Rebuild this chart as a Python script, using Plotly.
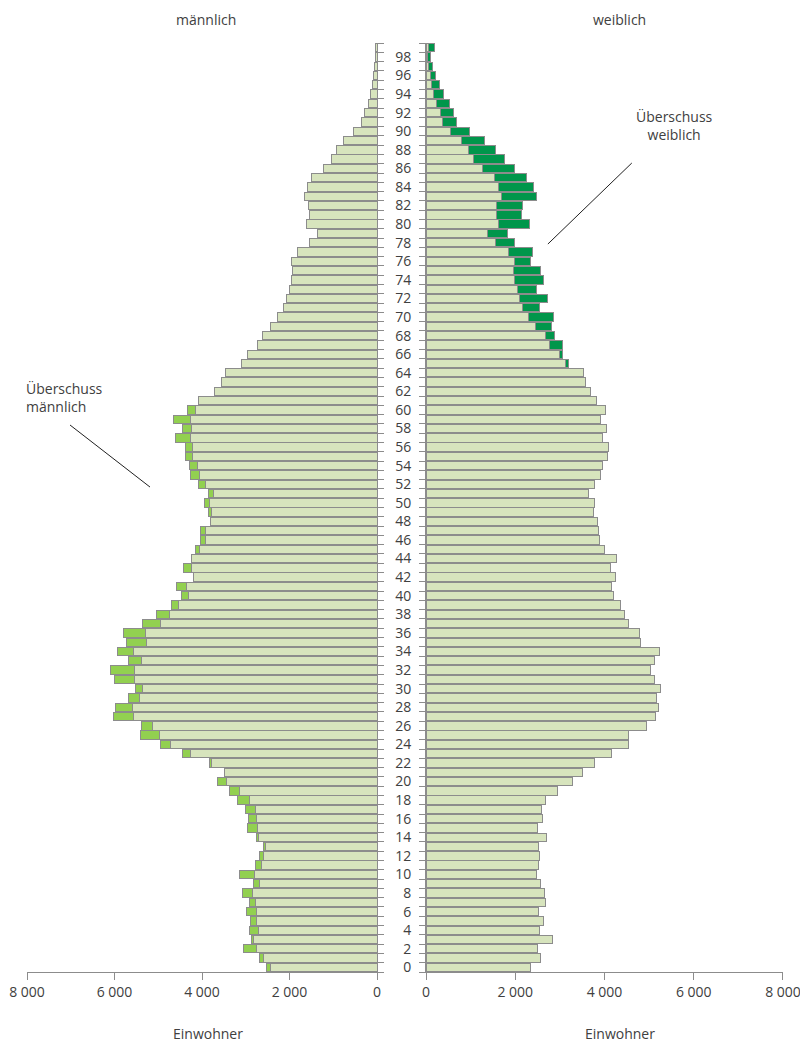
import plotly.graph_objects as go

# Alter 0 bis 99
alter = list(range(100))

# maennlich: gemeinsamer Teil (hell) und Ueberschuss (hellgruen)
maenner_basis = [
    2424, 2606, 2766, 2834, 2720, 2758, 2751, 2789, 2850, 2690,
    2804, 2644, 2599, 2546, 2720, 2728, 2766, 2789, 2926, 3153,
    3450, 3480, 3777, 4271, 4726, 4962, 5129, 5562, 5578, 5418,
    5365, 5532, 5547, 5380, 5555, 5258, 5289, 4939, 4734, 4529,
    4316, 4347, 4202, 4248, 4248, 4065, 3929, 3929, 3815, 3784,
    3837, 3739, 3913, 4065, 4103, 4210, 4217, 4271, 4233, 4271,
    4157, 4081, 3708, 3564, 3465, 3093, 2956, 2743, 2629, 2424,
    2272, 2128, 2067, 2006, 1960, 1938, 1953, 1816, 1543, 1360,
    1603, 1543, 1558, 1649, 1581, 1497, 1231, 1041, 927, 767,
    532, 357, 289, 205, 160, 106, 84, 53, 38, 40,
]
maenner_ueberschuss = [
    106, 69, 296, 46, 206, 137, 243, 137, 220, 137,
    342, 145, 91, 53, 46, 236, 175, 228, 273, 228,
    197, 0, 45, 174, 221, 448, 251, 456, 402, 273,
    152, 463, 547, 304, 372, 479, 516, 426, 312, 175,
    152, 235, 0, 167, 0, 92, 106, 106, 0, 61,
    107, 114, 168, 198, 190, 167, 152, 334, 212, 379,
    182, 0, 0, 0, 0, 0, 0, 0, 0, 0,
    0, 0, 0, 0, 0, 0, 0, 0, 0, 0,
    0, 0, 0, 0, 0, 0, 0, 0, 0, 0,
    0, 0, 0, 0, 0, 0, 0, 0, 0, 0,
]

# weiblich: gemeinsamer Teil (hell) und Ueberschuss (dunkelgruen)
frauen_basis = [
    2339, 2556, 2496, 2840, 2534, 2639, 2526, 2676, 2661, 2563,
    2481, 2519, 2534, 2519, 2698, 2496, 2608, 2578, 2676, 2953,
    3281, 3505, 3774, 4148, 4537, 4537, 4933, 5142, 5210, 5172,
    5254, 5112, 5030, 5120, 5232, 4806, 4791, 4537, 4447, 4357,
    4200, 4156, 4245, 4133, 4275, 3999, 3879, 3857, 3842, 3752,
    3767, 3640, 3782, 3909, 3954, 4066, 4096, 3961, 4043, 3901,
    4021, 3819, 3684, 3565, 3520, 3124, 2989, 2773, 2668, 2459,
    2302, 2160, 2093, 2048, 1988, 1966, 1980, 1854, 1554, 1383,
    1621, 1577, 1584, 1682, 1614, 1532, 1263, 1069, 949, 800,
    545, 374, 314, 224, 172, 112, 97, 52, 35, 52,
]
frauen_ueberschuss = [
    0, 0, 0, 0, 0, 0, 0, 0, 0, 0,
    0, 0, 0, 0, 0, 0, 0, 0, 0, 0,
    0, 0, 0, 0, 0, 0, 0, 0, 0, 0,
    0, 0, 0, 0, 0, 0, 0, 0, 0, 0,
    0, 0, 0, 0, 0, 0, 0, 0, 0, 0,
    0, 0, 0, 0, 0, 0, 0, 0, 0, 0,
    0, 0, 0, 0, 0, 75, 60, 276, 209, 344,
    553, 374, 635, 433, 635, 590, 352, 530, 426, 440,
    688, 568, 576, 799, 792, 717, 717, 687, 605, 515,
    434, 299, 299, 306, 217, 187, 112, 90, 70, 135,
]

x_ticks = [0, 2000, 4000, 6000, 8000]
x_ticktext = ["0", "2 000", "4 000", "6 000", "8 000"]
alter_ticks = list(range(0, 100, 2))

HELL = "#d7e4bd"
GRUEN_M = "#92d050"
GRUEN_W = "#00964b"
RAND = "#8c8c8c"
TEXT = "#404040"
FONT = "Open Sans"

grenzen = [a - 0.5 for a in range(101)]

fig = go.Figure()

fig.add_bar(y=alter, x=maenner_basis, orientation="h", xaxis="x", yaxis="y",
            marker=dict(color=HELL, line=dict(color=RAND, width=1)))
fig.add_bar(y=alter, x=maenner_ueberschuss, orientation="h", xaxis="x", yaxis="y",
            marker=dict(color=GRUEN_M, line=dict(color=RAND, width=1)))
fig.add_bar(y=alter, x=frauen_basis, orientation="h", xaxis="x2", yaxis="y2",
            marker=dict(color=HELL, line=dict(color=RAND, width=1)))
fig.add_bar(y=alter, x=frauen_ueberschuss, orientation="h", xaxis="x2", yaxis="y2",
            marker=dict(color=GRUEN_W, line=dict(color=RAND, width=1)))

xachse = dict(
    tickvals=x_ticks, ticktext=x_ticktext, ticks="outside", ticklen=7,
    tickcolor=RAND, showline=True, linecolor=RAND, linewidth=1,
    showgrid=False, zeroline=False, tickfont=dict(size=14, color=TEXT),
    automargin=False, ticklabeloverflow="allow",
)
yminor = dict(tickmode="array", tickvals=grenzen, ticks="outside",
              ticklen=6, tickcolor=RAND)

# die Seite hat 8 px Rand, daher etwas kleinere Figur
fig.update_layout(
    width=800, height=1038,
    margin=dict(l=19, r=25, t=35, b=74),
    plot_bgcolor="white", paper_bgcolor="white",
    barmode="stack", bargap=0.1, showlegend=False,
    font=dict(family=FONT, size=14, color=TEXT),
    xaxis=dict(xachse, domain=[0, 0.463], range=[8000, 0], anchor="y"),
    xaxis2=dict(xachse, domain=[0.5278, 1], range=[0, 8000], anchor="y2"),
    yaxis=dict(domain=[0, 1], range=[-0.5, 99.5], anchor="x", side="right",
               showline=True, linecolor=RAND, showgrid=False, zeroline=False,
               showticklabels=False, ticks="", minor=yminor, automargin=False),
    yaxis2=dict(domain=[0, 1], range=[-0.5, 99.5], anchor="x2", side="left",
                showline=True, linecolor=RAND, showgrid=False, zeroline=False,
                tickvals=alter_ticks, ticks="outside", ticklen=11,
                tickcolor="rgba(0,0,0,0)", tickfont=dict(size=14, color=TEXT),
                minor=yminor, automargin=False),
)

anm = [
    dict(text="männlich", x=0.2368, y=1.0377, yanchor="top"),
    dict(text="weiblich", x=0.784, y=1.0377, yanchor="top"),
    dict(text="Einwohner", x=0.239, y=-0.0657, yanchor="middle"),
    dict(text="Einwohner", x=0.784, y=-0.0657, yanchor="middle"),
    dict(text="Überschuss<br>weiblich", x=0.857, y=0.9107, yanchor="middle"),
]
for a in anm:
    fig.add_annotation(xref="paper", yref="paper", showarrow=False,
                       xanchor="center", font=dict(size=14, color=TEXT), **a)
fig.add_annotation(text="Überschuss<br>männlich", xref="paper", yref="paper",
                   x=-0.004, y=0.618, xanchor="left", yanchor="middle",
                   align="left", showarrow=False, font=dict(size=14, color=TEXT))

fig.add_shape(type="line", xref="paper", yref="paper",
              x0=0.689, y0=0.7836, x1=0.800, y1=0.8708,
              line=dict(color="#202020", width=1))
fig.add_shape(type="line", xref="paper", yref="paper",
              x0=0.0569, y0=0.5888, x1=0.1627, y1=0.522,
              line=dict(color="#202020", width=1))

fig.write_html("out.html")
